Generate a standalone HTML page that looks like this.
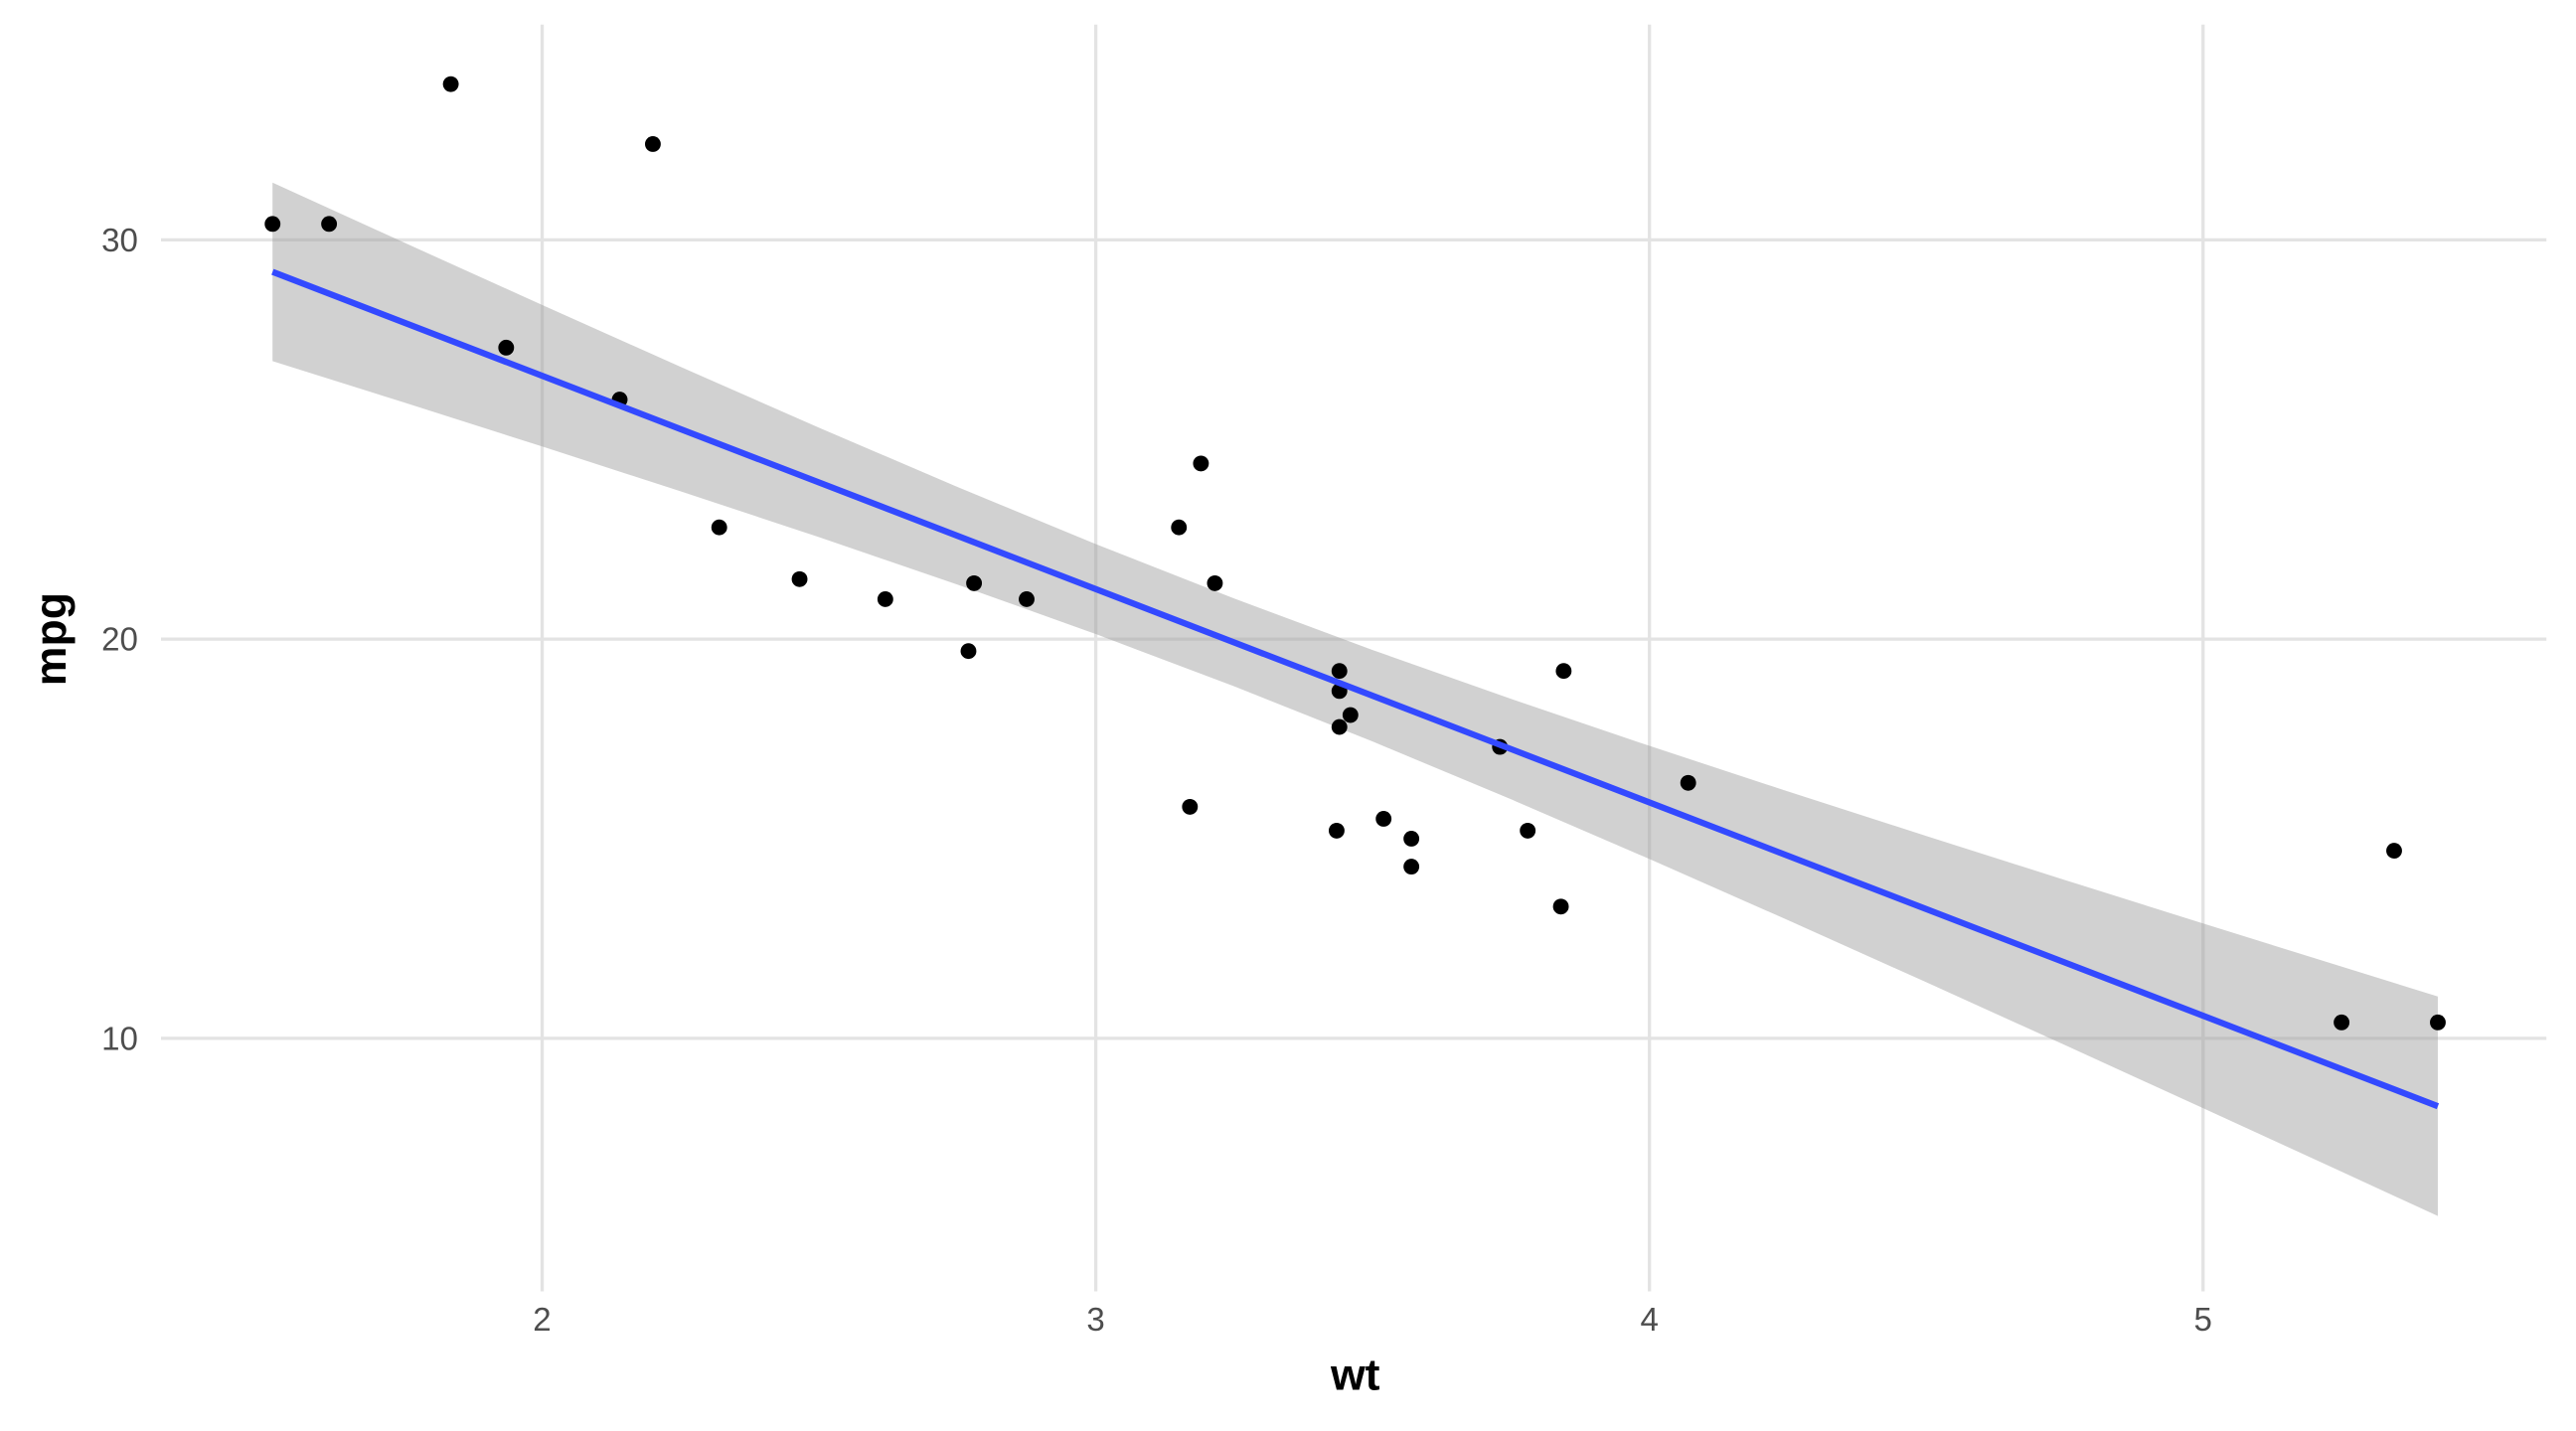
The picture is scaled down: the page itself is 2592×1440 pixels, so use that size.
<!DOCTYPE html>
<html><head><meta charset="utf-8"><style>html,body{margin:0;padding:0;background:#fff}svg{display:block}</style></head>
<body>
<svg width="2592" height="1440" viewBox="0 0 1568 871" preserveAspectRatio="none" xmlns="http://www.w3.org/2000/svg" font-family="Liberation Sans, sans-serif">
<rect width="1568" height="871" fill="#fff"/>
<g stroke="#e3e3e3" stroke-width="2">
<line x1="330" y1="15" x2="330" y2="786"/><line x1="667" y1="15" x2="667" y2="786"/><line x1="1004" y1="15" x2="1004" y2="786"/><line x1="1341" y1="15" x2="1341" y2="786"/>
<line x1="98" y1="146" x2="1550" y2="146"/><line x1="98" y1="389" x2="1550" y2="389"/><line x1="98" y1="632" x2="1550" y2="632"/>
</g>
<g transform="matrix(337 0 0 -24.3 -344 875)">
<polygon fill="#999" fill-opacity="0.45" points="1.513,31.434 1.75,29.937 2,28.369 2.25,26.819 2.5,25.296 2.75,23.811 3,22.380 3.25,21.017 3.5,19.727 3.75,18.502 4,17.326 4.25,16.185 4.5,15.069 4.75,13.968 5,12.878 5.25,11.797 5.424,11.048 5.424,5.550 5.25,6.661 5,8.252 4.75,9.834 4.5,11.405 4.25,12.961 4,14.492 3.75,15.988 3.5,17.435 3.25,18.817 3,20.126 2.75,21.367 2.5,22.554 2.25,23.703 2,24.825 1.75,25.929 1.513,26.964"/>
</g>
<g fill="#000">
<circle cx="538.9" cy="364.7" r="4.8"/><circle cx="624.9" cy="364.7" r="4.8"/><circle cx="437.8" cy="321.0" r="4.8"/><circle cx="739.5" cy="355.0" r="4.8"/>
<circle cx="815.3" cy="420.6" r="4.8"/><circle cx="822.0" cy="435.2" r="4.8"/><circle cx="859.1" cy="527.5" r="4.8"/><circle cx="731.0" cy="282.1" r="4.8"/>
<circle cx="717.6" cy="321.0" r="4.8"/><circle cx="815.3" cy="408.4" r="4.8"/><circle cx="815.3" cy="442.5" r="4.8"/><circle cx="1027.6" cy="476.5" r="4.8"/>
<circle cx="913.0" cy="454.6" r="4.8"/><circle cx="929.9" cy="505.6" r="4.8"/><circle cx="1425.3" cy="622.3" r="4.8"/><circle cx="1483.9" cy="622.3" r="4.8"/>
<circle cx="1457.3" cy="517.8" r="4.8"/><circle cx="397.4" cy="87.7" r="4.8"/><circle cx="200.3" cy="136.3" r="4.8"/><circle cx="274.4" cy="51.2" r="4.8"/>
<circle cx="486.7" cy="352.5" r="4.8"/><circle cx="842.2" cy="498.4" r="4.8"/><circle cx="813.6" cy="505.6" r="4.8"/><circle cx="950.1" cy="551.8" r="4.8"/>
<circle cx="951.8" cy="408.4" r="4.8"/><circle cx="308.1" cy="211.6" r="4.8"/><circle cx="377.2" cy="243.2" r="4.8"/><circle cx="165.9" cy="136.3" r="4.8"/>
<circle cx="724.3" cy="491.1" r="4.8"/><circle cx="589.5" cy="396.3" r="4.8"/><circle cx="859.1" cy="510.5" r="4.8"/><circle cx="592.9" cy="355.0" r="4.8"/>
</g>
<line x1="165.9" y1="165.5" x2="1483.9" y2="673.3" stroke="#3349ff" stroke-width="3.8"/>
<g fill="#4d4d4d" font-size="20">
<text x="84" y="153" text-anchor="end">30</text><text x="84" y="396" text-anchor="end">20</text><text x="84" y="639" text-anchor="end">10</text>
<text x="330" y="810" text-anchor="middle">2</text><text x="667" y="810" text-anchor="middle">3</text><text x="1004" y="810" text-anchor="middle">4</text><text x="1341" y="810" text-anchor="middle">5</text>
</g>
<text x="825" y="846" text-anchor="middle" font-size="27" font-weight="bold">wt</text>
<text transform="translate(40 389) rotate(-90)" text-anchor="middle" font-size="27" font-weight="bold">mpg</text>
</svg>
</body></html>
